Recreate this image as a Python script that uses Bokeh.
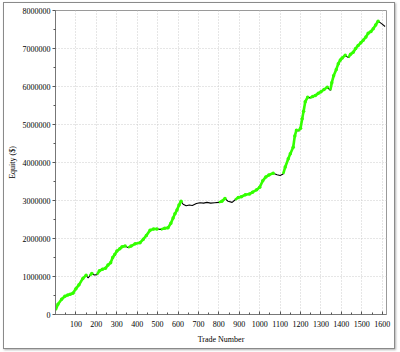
from bokeh.plotting import figure
from bokeh.models import FixedTicker, Range1d
from bokeh.layouts import column
from bokeh.embed import file_html
from bokeh.resources import INLINE

# Equity curve (trade number, equity in $)
trade_number = [1, 12, 30, 46, 60, 72, 85, 100, 115, 134, 150, 160, 168, 178, 190,
                203, 215, 230, 245, 257, 270, 280, 290, 301, 315, 326, 341, 355, 370,
                390, 414, 430, 445, 463, 480, 497, 515, 535, 551, 565, 576, 585, 595,
                605, 615, 625, 640, 655, 670, 690, 708, 725, 742, 760, 780, 800, 815,
                830, 845, 865, 880, 895, 910, 930, 950, 965, 985, 1000, 1015, 1030,
                1045, 1066, 1085, 1100, 1115, 1125, 1140, 1150, 1164, 1172, 1180, 1190,
                1200, 1208, 1215, 1223, 1235, 1247, 1260, 1272, 1287, 1300, 1315, 1331,
                1346, 1353, 1362, 1375, 1385, 1395, 1404, 1419, 1434, 1445, 1458, 1470,
                1482, 1495, 1507, 1520, 1531, 1545, 1556, 1568, 1580, 1590, 1600, 1614]
equity = [120000, 270000, 400000, 480000, 510000, 530000, 560000, 680000, 780000,
          950000, 1030000, 960000, 1020000, 1080000, 1040000, 1050000, 1150000,
          1190000, 1220000, 1300000, 1360000, 1500000, 1580000, 1670000, 1730000,
          1780000, 1800000, 1760000, 1800000, 1860000, 1890000, 1980000, 2080000,
          2220000, 2250000, 2250000, 2240000, 2270000, 2280000, 2400000, 2540000,
          2650000, 2750000, 2880000, 2980000, 2900000, 2860000, 2880000, 2870000,
          2920000, 2940000, 2930000, 2950000, 2930000, 2940000, 2950000, 2980000,
          3050000, 2980000, 2950000, 3020000, 3080000, 3100000, 3150000, 3170000,
          3220000, 3280000, 3350000, 3520000, 3620000, 3670000, 3720000, 3680000,
          3660000, 3700000, 3880000, 4100000, 4230000, 4400000, 4700000, 4850000,
          4830000, 4900000, 5150000, 5350000, 5600000, 5720000, 5700000, 5740000,
          5760000, 5820000, 5860000, 5920000, 5980000, 5900000, 6100000, 6280000,
          6450000, 6600000, 6700000, 6750000, 6820000, 6760000, 6850000, 6900000,
          7000000, 7080000, 7150000, 7220000, 7300000, 7400000, 7450000, 7520000,
          7620000, 7720000, 7680000, 7640000, 7580000]

x_ticks = [100, 200, 300, 400, 500, 600, 700, 800, 900, 1000, 1100, 1200, 1300, 1400, 1500, 1600]
y_ticks = [0, 1000000, 2000000, 3000000, 4000000, 5000000, 6000000, 7000000, 8000000]

# new equity highs (drawn green)
seg_x0, seg_y0, seg_x1, seg_y1 = [], [], [], []
hx, hy = [], []
run_max = equity[0]
for i in range(1, len(equity)):
    if equity[i] >= run_max:
        seg_x0.append(trade_number[i - 1]); seg_y0.append(equity[i - 1])
        seg_x1.append(trade_number[i]); seg_y1.append(equity[i])
        hx.append(trade_number[i]); hy.append(equity[i])
        run_max = equity[i]

FONT = "Liberation Serif"

p = figure(width=390, height=345, output_backend="svg", toolbar_location=None,
           x_range=Range1d(0, 1621), y_range=Range1d(0, 8000000),
           min_border_left=51, min_border_right=8, min_border_top=7, min_border_bottom=34)
p.background_fill_color = "white"
p.border_fill_color = "white"
p.outline_line_color = "#9a9a9a"
p.outline_line_width = 1

p.line(trade_number, equity, line_color="black", line_width=1.1)
p.segment(seg_x0, seg_y0, seg_x1, seg_y1, line_color="#33ff00", line_width=2.6)
p.scatter(hx, hy, size=3.5, fill_color="#33ff00", line_color=None)

minor_x = [v for v in range(50, 1650, 50) if v % 100 != 0]
minor_y = [v for v in range(500000, 8000000, 1000000)]
p.xaxis.ticker = FixedTicker(ticks=x_ticks, minor_ticks=minor_x)
p.yaxis.ticker = FixedTicker(ticks=y_ticks, minor_ticks=minor_y)
p.xgrid.ticker = FixedTicker(ticks=x_ticks)
p.ygrid.ticker = FixedTicker(ticks=y_ticks)
p.yaxis.formatter.use_scientific = False

for g in (p.xgrid, p.ygrid):
    g.grid_line_color = "#cccccc"
    g.grid_line_dash = "1 2"
    g.grid_line_width = 1

p.xaxis.axis_label = "Trade Number"
p.yaxis.axis_label = "Equity ($)"
for ax in (p.xaxis, p.yaxis):
    ax.axis_line_color = "#777777"
    ax.major_tick_line_color = "#555555"
    ax.minor_tick_line_color = "#555555"
    ax.major_label_text_font = FONT
    ax.major_label_text_font_size = "8px"
    ax.major_label_text_color = "black"
    ax.axis_label_text_font = FONT
    ax.axis_label_text_font_size = "8px"
    ax.axis_label_text_font_style = "normal"
    ax.axis_label_text_color = "black"
p.xaxis.major_tick_in = 3
p.xaxis.major_tick_out = 0
p.xaxis.minor_tick_in = 2
p.xaxis.minor_tick_out = 0
p.xaxis.major_label_standoff = 6
p.xaxis.axis_label_standoff = 5
p.yaxis.major_tick_in = 0
p.yaxis.major_tick_out = 3
p.yaxis.minor_tick_in = 0
p.yaxis.minor_tick_out = 2
p.yaxis.major_label_standoff = 2
p.yaxis.axis_label_standoff = 3

page = column(p, styles={"border": "1px solid #8a8a8a",
                         "box-shadow": "1px 1px 2px #b0b0b0",
                         "margin-left": "3px", "margin-top": "2px"})

open("out.html", "w").write(file_html(page, INLINE))
